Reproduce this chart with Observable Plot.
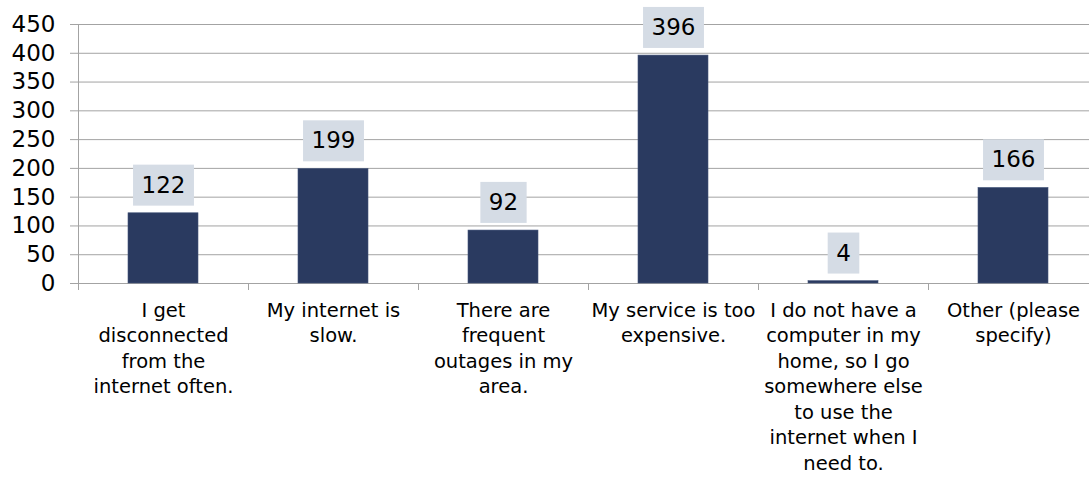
<!DOCTYPE html>
<html>
<head>
<meta charset="utf-8">
<script src="https://cdn.jsdelivr.net/npm/d3@7"></script>
<script src="https://cdn.jsdelivr.net/npm/@observablehq/plot@0.6"></script>
<style>
  html, body { margin: 0; padding: 0; background: #fff; overflow: hidden; }
  #chart svg { display: block; overflow: visible; }
</style>
</head>
<body>
<div id="chart"></div>
<script>
const categories = [
  "I get disconnected from the internet often.",
  "My internet is slow.",
  "There are frequent outages in my area.",
  "My service is too expensive.",
  "I do not have a computer in my home, so I go somewhere else to use the internet when I need to.",
  "Other (please specify)"
];
const values = [122, 199, 92, 396, 4, 166];
const tickLabels = [
  "I get\ndisconnected\nfrom the\ninternet often.",
  "My internet is\nslow.",
  "There are\nfrequent\noutages in my\narea.",
  "My service is too\nexpensive.",
  "I do not have a\ncomputer in my\nhome, so I go\nsomewhere else\nto use the\ninternet when I\nneed to.",
  "Other (please\nspecify)"
];
const yTicks = [0, 50, 100, 150, 200, 250, 300, 350, 400, 450];

const data = categories.map((c, i) => ({category: c, value: values[i]}));
const labelOf = new Map(categories.map((c, i) => [c, tickLabels[i]]));

const W = 1089, H = 478;
const left = 78, right = 1098;
const step = (right - left) / categories.length;
const font = "DejaVu Sans, sans-serif";
const grid = "#a3a3a3";

const chart = Plot.plot({
  width: W,
  height: H,
  marginLeft: left,
  marginRight: W - right,
  marginTop: 24,
  marginBottom: 195,
  style: {fontFamily: font, background: "#fff", color: "#000"},
  x: {domain: categories, range: [left, right], paddingInner: 0.588, paddingOuter: 0.294, label: null},
  y: {domain: [0, 450], ticks: yTicks, label: null},
  marks: [
    Plot.gridY(yTicks, {stroke: grid, strokeOpacity: 1, strokeWidth: 1}),
    Plot.axisY(yTicks, {tickSize: 8, tickPadding: 15, stroke: grid, fontSize: 23, fill: "#000", label: null}),
    Plot.ruleX([0], {x: () => categories[0], dx: -step / 2, y1: 0, y2: 450, stroke: grid}),
    Plot.axisX({tickSize: 7, tickFormat: () => "", stroke: grid, dx: -step / 2, label: null}),
    Plot.axisX({tickSize: 0, tickPadding: 15, tickFormat: d => labelOf.get(d), fontSize: 19.5, lineHeight: 1.31, fill: "#000", label: null}),
    Plot.ruleY([0], {stroke: grid}),
    Plot.barY(data, {x: "category", y: "value", fill: "#2a3a60", stroke: "#44557a", strokeWidth: 0.6}),
    Plot.text(data, {x: "category", y: "value", text: d => String(d.value), dy: -28, fontSize: 23, fill: "#000", className: "datalabel"})
  ]
});

document.getElementById("chart").appendChild(chart);

// Add background boxes behind the data labels (measured from the rendered text)
chart.querySelectorAll(".datalabel text").forEach(t => {
  const b = t.getBBox();
  const ctm = t.getAttribute("transform");
  const r = document.createElementNS("http://www.w3.org/2000/svg", "rect");
  const w = b.width + 17, h = 41;
  const cx = b.x + b.width / 2, cy = b.y + b.height / 2 + 0.5;
  r.setAttribute("x", cx - w / 2);
  r.setAttribute("y", cy - h / 2);
  r.setAttribute("width", w);
  r.setAttribute("height", h);
  r.setAttribute("fill", "#d5dce5");
  if (ctm) r.setAttribute("transform", ctm);
  t.parentNode.insertBefore(r, t);
});
</script>
</body>
</html>
